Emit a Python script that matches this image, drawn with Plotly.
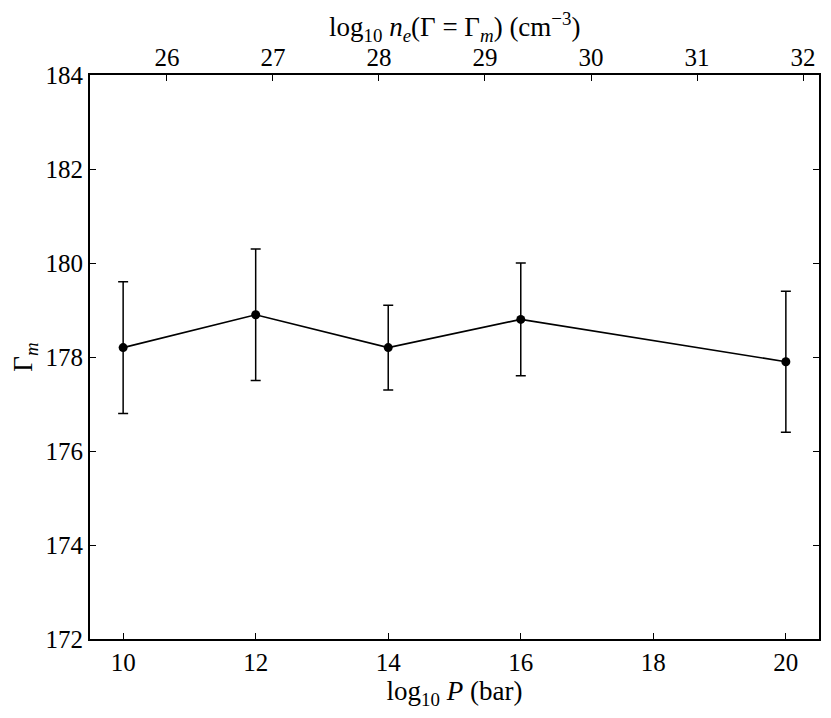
import plotly.graph_objects as go

log_p = [10, 12, 14, 16, 20]
gamma_m = [178.2, 178.9, 178.2, 178.8, 177.9]
gamma_err = [1.4, 1.4, 0.9, 1.2, 1.5]

x_ticks = [10, 12, 14, 16, 18, 20]
y_ticks = [172, 174, 176, 178, 180, 182, 184]
top_ticks = [26, 27, 28, 29, 30, 31, 32]

x_range = [9.5, 20.5]
y_range = [172, 184]
# top axis: log10 n_e ; 26 sits at log P = 10.66, one decade of n_e spans 1.6 in log P
top_range = [26 - (10.66 - 9.5) / 1.6, 26 + (20.5 - 10.66) / 1.6]

top_title = "log<sub>10</sub> <i>n<sub>e</sub></i>(Γ = Γ<sub><i>m</i></sub>) (cm<sup>−3</sup>)"

font_family = "Liberation Serif, DejaVu Serif, serif"

fig = go.Figure()
fig.add_trace(go.Scatter(
    x=log_p, y=gamma_m,
    mode="lines+markers",
    line=dict(color="black", width=1.6),
    marker=dict(color="black", size=9),
    error_y=dict(type="data", array=gamma_err, visible=True,
                 color="black", thickness=1.5, width=5),
    showlegend=False,
))

fig.update_layout(
    width=831, height=718,
    margin=dict(l=82, r=20, t=67, b=87),
    paper_bgcolor="white", plot_bgcolor="white",
    font=dict(family=font_family, size=25, color="black"),
    xaxis=dict(
        range=x_range, tickvals=x_ticks, ticks="inside", ticklen=6,
        tickwidth=1, tickcolor="black", automargin=False,
        showline=True, linecolor="black", linewidth=2, mirror=True,
        showgrid=False, zeroline=False,
        title=dict(text="log<sub>10</sub> <i>P</i> (bar)", standoff=0,
                   font=dict(size=27)),
    ),
    xaxis2=dict(
        range=top_range, tickvals=top_ticks, overlaying="x", side="top",
        ticks="inside", ticklen=6, tickwidth=1, tickcolor="black",
        ticklabelstandoff=3, automargin=False,
        showline=False, showgrid=False, zeroline=False,
    ),
    yaxis=dict(
        range=y_range, tickvals=y_ticks, ticks="inside", ticklen=6,
        tickwidth=1, tickcolor="black", automargin=False,
        showline=True, linecolor="black", linewidth=2, mirror="ticks",
        showgrid=False, zeroline=False,
        title=dict(text="Γ<sub><i>m</i></sub>", standoff=10,
                   font=dict(size=27)),
    ),
    annotations=[dict(
        text=top_title, xref="paper", yref="paper", x=0.5, y=1,
        xanchor="center", yanchor="middle", yshift=48, showarrow=False,
        font=dict(size=27),
    )],
)

fig.add_trace(go.Scatter(x=[top_ticks[0]], y=[y_range[0]], xaxis="x2",
                         mode="markers", marker=dict(opacity=0),
                         hoverinfo="skip", showlegend=False))

fig.write_html("out.html")
